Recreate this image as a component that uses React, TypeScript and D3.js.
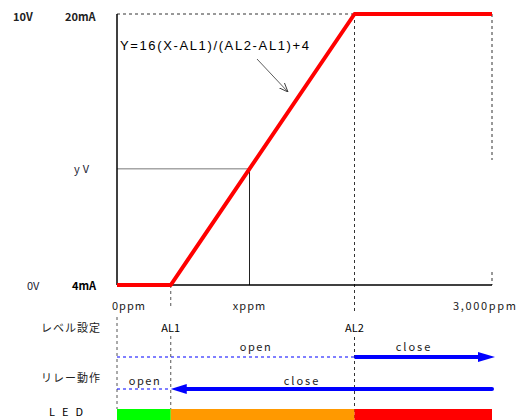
import React from "react";
import * as d3 from "d3";

const X_MAX = 3000;
const AL1 = 430;
const AL2 = 1900;
const X_SAMPLE = 1060;
const MA_MIN = 4;
const MA_MAX = 20;
const outputPoints: [number, number][] = [
  [0, 4],
  [AL1, 4],
  [AL2, 20],
  [X_MAX, 20],
];
const ledSegments = [
  { from: 0, to: AL1, color: "#00ff00" },
  { from: AL1, to: AL2, color: "#ff9900" },
  { from: AL2, to: X_MAX, color: "#ff0000" },
];

const W = 518;
const H = 420;

export default function App() {
  const x = d3.scaleLinear().domain([0, X_MAX]).range([117, 492]);
  const y = d3.scaleLinear().domain([MA_MIN, MA_MAX]).range([285, 14]);
  const line = d3
    .line<[number, number]>()
    .x((d) => x(d[0]))
    .y((d) => y(d[1]));
  const ySample = MA_MIN + ((MA_MAX - MA_MIN) * (X_SAMPLE - AL1)) / (AL2 - AL1);

  const jp = "'Noto Sans CJK JP', 'DejaVu Sans', sans-serif";
  const ar = "'Liberation Sans', Arial, sans-serif";
  const dash = "3,3";
  const blue = "#0000ff";

  const upperY = 357;
  const lowerY = 389;

  return (
    <div style={{ position: "absolute", left: 0, top: 0 }}>
      <svg width={W} height={H} style={{ display: "block", background: "#fff" }}>
        <defs>
          <marker id="openArrow" viewBox="0 0 10 10" refX="10" refY="5" markerWidth="9" markerHeight="9" orient="auto" markerUnits="userSpaceOnUse">
            <path d="M0,1 L10,5 L0,9" fill="none" stroke="#333" strokeWidth="1" />
          </marker>
        </defs>

        {/* top dashed */}
        <line x1={x(0)} x2={x(AL2)} y1={y(MA_MAX)} y2={y(MA_MAX)} stroke="#333" strokeDasharray={dash} strokeWidth={1} />
        {/* AL2 vertical dashed */}
        <line x1={x(AL2)} x2={x(AL2)} y1={y(MA_MAX)} y2={311} stroke="#333" strokeDasharray={dash} strokeWidth={1} />
        <line x1={x(AL2)} x2={x(AL2)} y1={337} y2={420} stroke="#333" strokeDasharray={dash} strokeWidth={1} />
        {/* right dashed */}
        <line x1={x(X_MAX)} x2={x(X_MAX)} y1={y(MA_MAX)} y2={160} stroke="#333" strokeDasharray={dash} strokeWidth={1} />
        <line x1={x(X_MAX)} x2={x(X_MAX)} y1={272} y2={y(MA_MIN)} stroke="#333" strokeDasharray={dash} strokeWidth={1} />
        {/* AL1 vertical dashed */}
        <line x1={x(AL1)} x2={x(AL1)} y1={y(MA_MIN)} y2={307} stroke="#555" strokeDasharray={dash} strokeWidth={1} />
        <line x1={x(AL1)} x2={x(AL1)} y1={336} y2={409} stroke="#555" strokeDasharray={dash} strokeWidth={1} />
        {/* 0ppm vertical dashed */}
        <line x1={x(0)} x2={x(0)} y1={317} y2={409} stroke="#555" strokeDasharray={dash} strokeWidth={1} />

        {/* sample guide lines */}
        <line x1={x(0)} x2={x(X_SAMPLE)} y1={y(ySample)} y2={y(ySample)} stroke="#777" strokeWidth={1} />
        <line x1={x(X_SAMPLE)} x2={x(X_SAMPLE)} y1={y(ySample)} y2={y(MA_MIN)} stroke="#222" strokeWidth={1} />

        {/* axes */}
        <line x1={x(0)} x2={x(0)} y1={y(MA_MAX)} y2={y(MA_MIN)} stroke="#000" strokeWidth={1.5} />
        <line x1={x(0)} x2={x(X_MAX)} y1={y(MA_MIN)} y2={y(MA_MIN)} stroke="#000" strokeWidth={1.5} />

        {/* output line */}
        <path d={line(outputPoints) || ""} fill="none" stroke="#ff0000" strokeWidth={4} strokeLinejoin="round" />

        {/* formula + arrow */}
        <text x={120} y={50} fontFamily={ar} fontSize={13} fill="#000" textLength={189} lengthAdjust="spacing">Y=16(X-AL1)/(AL2-AL1)+4</text>
        <line x1={257} y1={59} x2={288} y2={92} stroke="#333" strokeWidth={0.8} markerEnd="url(#openArrow)" />

        {/* left labels */}
        <text x={13} y={21} fontFamily={jp} fontSize={11} fontWeight="bold" fill="#222">10V</text>
        <text x={65} y={21} fontFamily={jp} fontSize={11} fontWeight="bold" fill="#222">20mA</text>
        <text x={74} y={173} fontFamily={jp} fontSize={11} fill="#223" letterSpacing={3}>yV</text>
        <text x={27} y={290} fontFamily={jp} fontSize={11} fill="#223">0V</text>
        <text x={72} y={290} fontFamily={jp} fontSize={11} fontWeight="bold" fill="#000">4mA</text>

        {/* x labels */}
        <text x={112} y={310} fontFamily={jp} fontSize={11} fill="#222" letterSpacing={1}>0ppm</text>
        <text x={x(X_SAMPLE)} y={310} fontFamily={jp} fontSize={11} fill="#222" letterSpacing={1} textAnchor="middle">xppm</text>
        <text x={453} y={310} fontFamily={jp} fontSize={11} fill="#222" textLength={63} lengthAdjust="spacing">3,000ppm</text>

        {/* level setting */}
        <text x={41} y={332} fontFamily={jp} fontSize={11} fill="#222" letterSpacing={1}>レベル設定</text>
        <text x={x(AL1)} y={332} fontFamily={jp} fontSize={11} fill="#000" textAnchor="middle">AL1</text>
        <text x={x(AL2)} y={332} fontFamily={jp} fontSize={11} fill="#000" textAnchor="middle">AL2</text>

        {/* upper relay line */}
        <line x1={x(0)} x2={x(AL2)} y1={upperY} y2={upperY} stroke={blue} strokeWidth={1.2} strokeDasharray={dash} />
        <line x1={x(AL2)} x2={478} y1={upperY} y2={upperY} stroke={blue} strokeWidth={4} />
        <path d={`M478,${upperY - 5} L495,${upperY} L478,${upperY + 5} Z`} fill={blue} />
        <text x={256} y={351} fontFamily={jp} fontSize={11} fill="#222" letterSpacing={1.5} textAnchor="middle">open</text>
        <text x={414} y={351} fontFamily={jp} fontSize={11} fill="#222" letterSpacing={2} textAnchor="middle">close</text>

        {/* relay action */}
        <text x={41} y={382} fontFamily={jp} fontSize={11} fill="#222" letterSpacing={1}>リレー動作</text>
        <line x1={x(0)} x2={x(AL1)} y1={lowerY} y2={lowerY} stroke={blue} strokeWidth={1.2} strokeDasharray={dash} />
        <line x1={x(AL1) + 14} x2={x(X_MAX)} y1={lowerY} y2={lowerY} stroke={blue} strokeWidth={4} strokeLinecap="round" />
        <path d={`M${x(AL1) + 16},${lowerY - 5} L${x(AL1)},${lowerY} L${x(AL1) + 16},${lowerY + 5} Z`} fill={blue} />
        <text x={145} y={385} fontFamily={jp} fontSize={11} fill="#222" letterSpacing={1.5} textAnchor="middle">open</text>
        <text x={302} y={385} fontFamily={jp} fontSize={11} fill="#222" letterSpacing={2} textAnchor="middle">close</text>

        {/* LED */}
        <text x={49} y={416} fontFamily={jp} fontSize={11} fill="#000" letterSpacing={7}>LED</text>
        {ledSegments.map((s, i) => (
          <rect key={i} x={x(s.from)} y={409} width={x(s.to) - x(s.from)} height={14} fill={s.color} />
        ))}
      </svg>
    </div>
  );
}
